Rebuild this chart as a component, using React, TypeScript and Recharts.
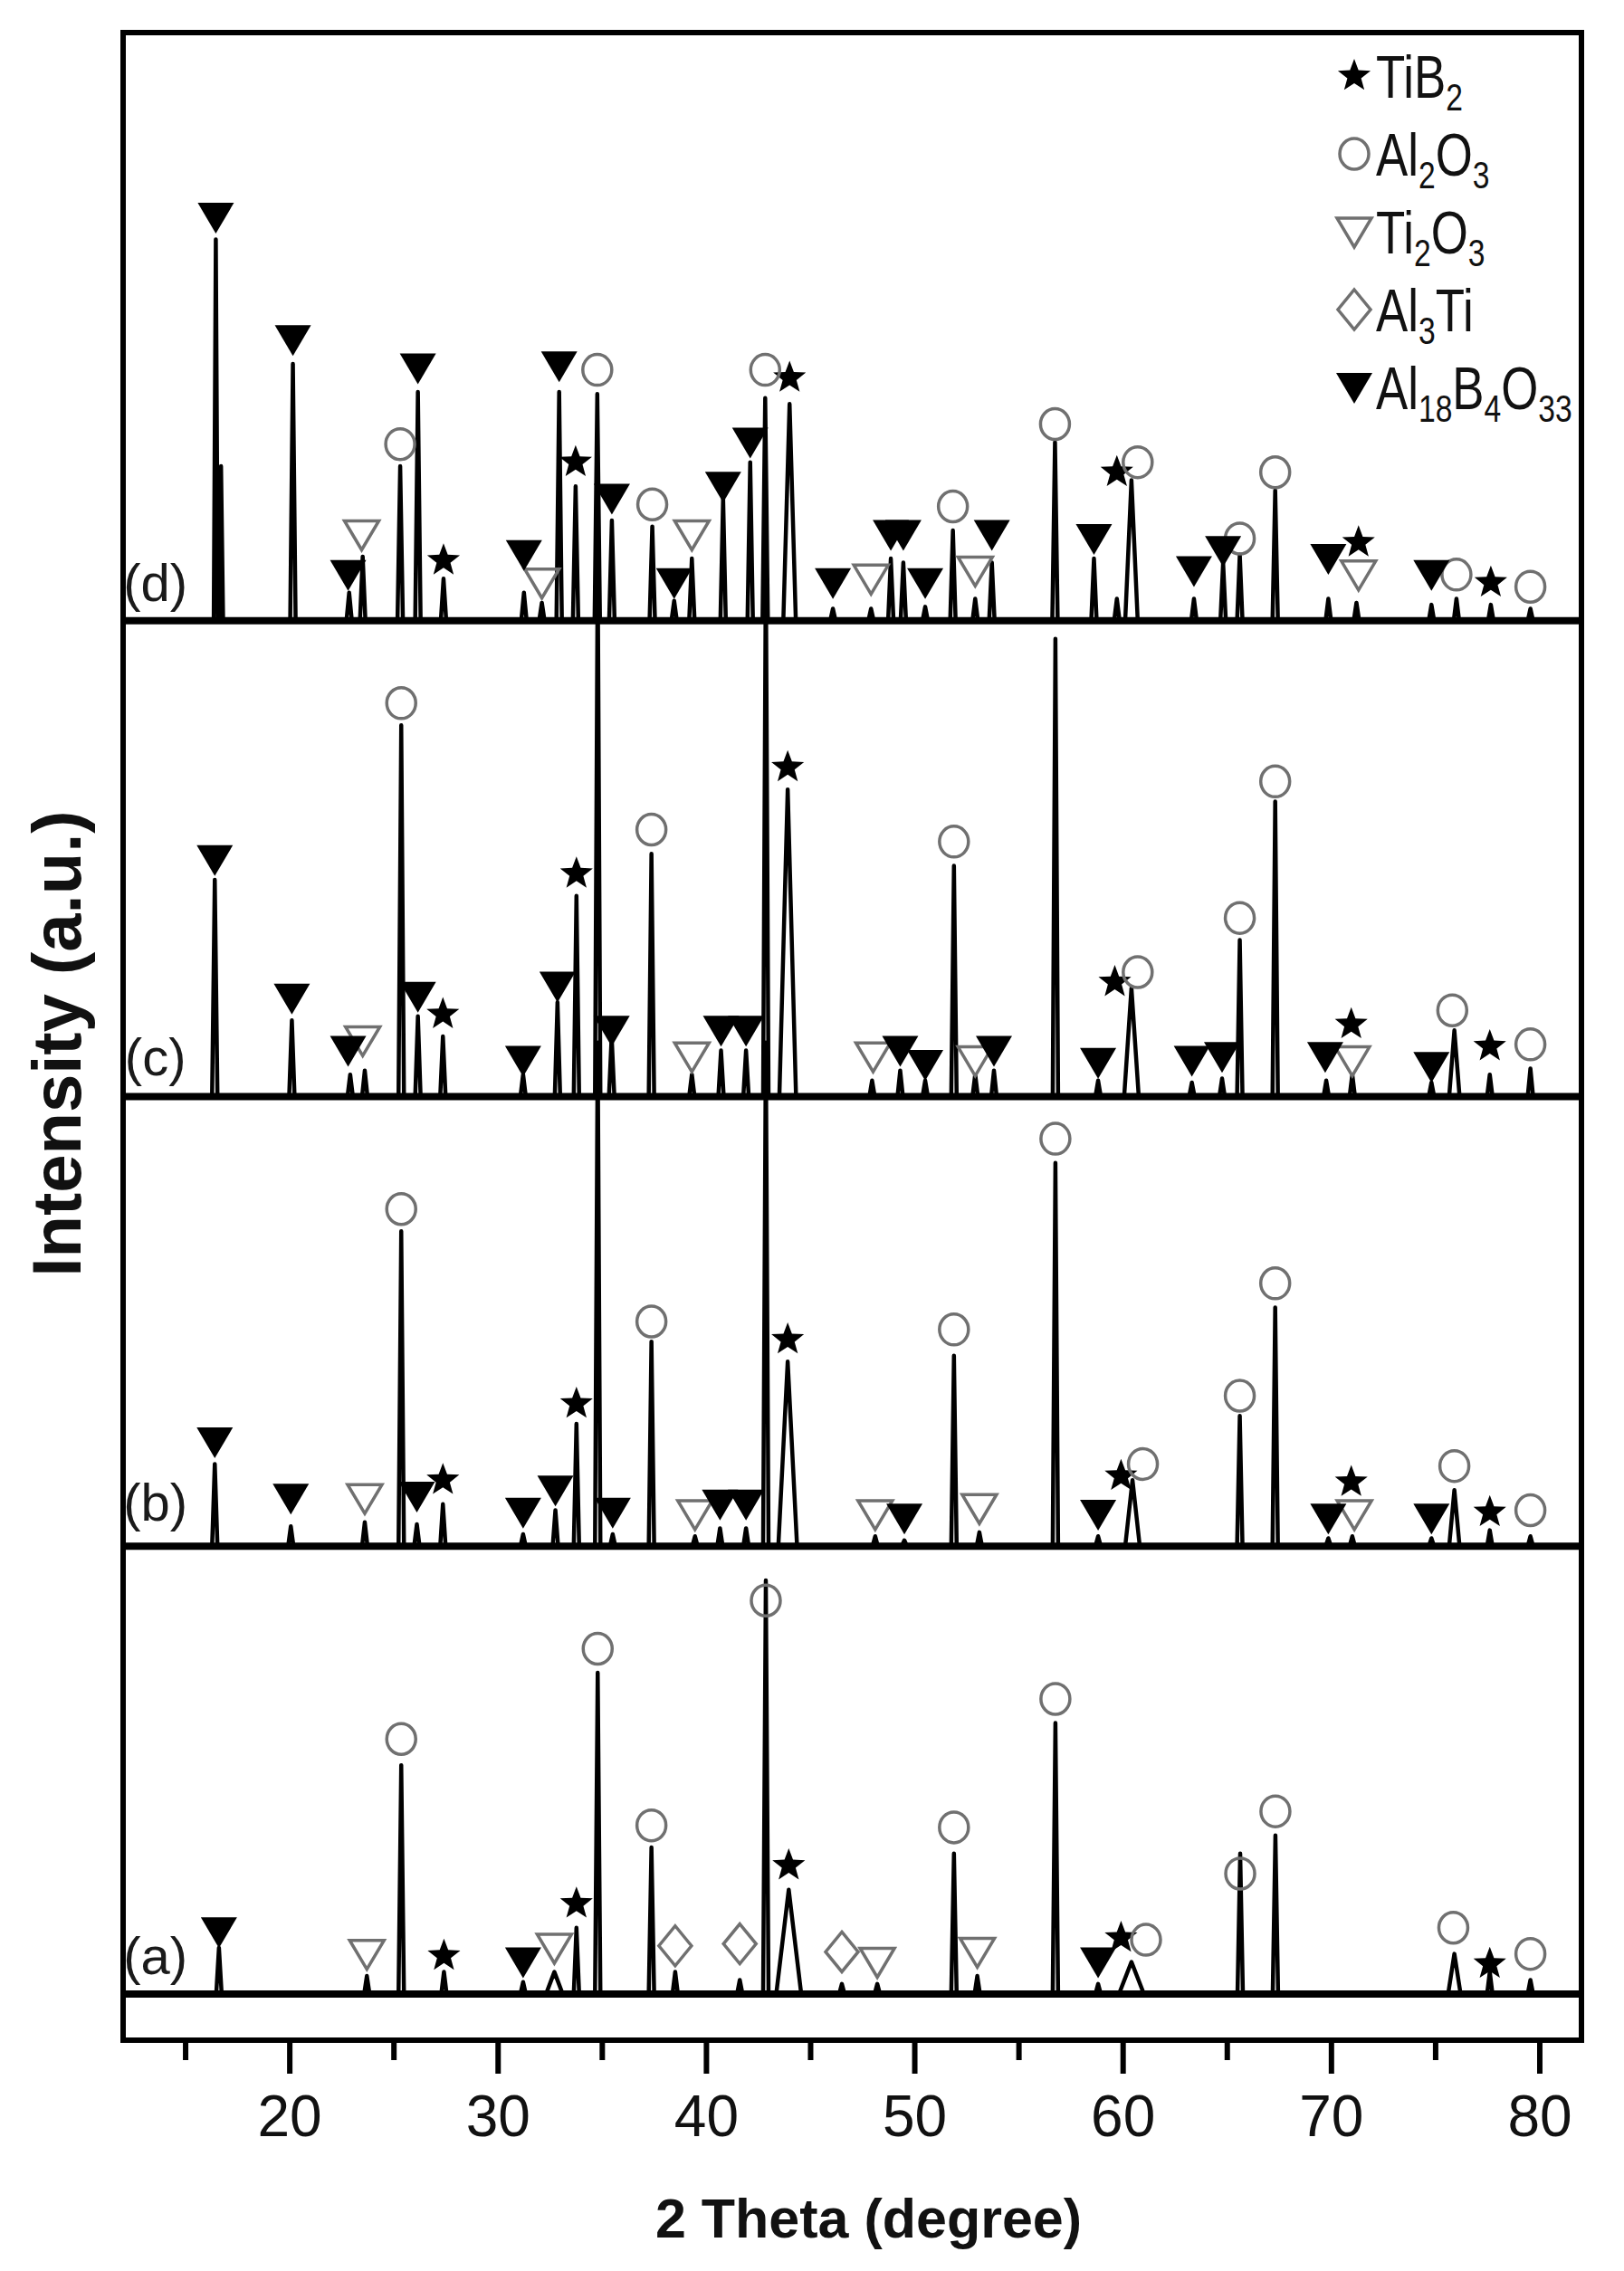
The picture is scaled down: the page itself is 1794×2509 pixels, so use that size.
import React from 'react';
import { ComposedChart, Line, Scatter, XAxis, YAxis, ReferenceArea, Legend } from 'recharts';

// ---------- data ----------
const X_DOMAIN = [12, 82];
const Y_DOMAIN = [0, 1000];
const MAJOR_TICKS = [20, 30, 40, 50, 60, 70, 80];
const MINOR_TICKS = [15, 25, 35, 45, 55, 65, 75];

const TRACE_NAMES = ['(a)', '(b)', '(c)', '(d)'];
const OFFSETS = [23, 246, 470, 707];
const NAME_LABEL_X = 13.55;
const NAME_LABEL_Y = [42, 268, 490, 726];

// [2theta, height above baseline, half width at base (optional)]
const PEAKS_A = [
  [16.6, 23], [23.7, 9], [25.35, 114], [27.4, 11], [31.2, 6], [32.7, 11, 0.4], [33.76, 33],
  [34.78, 160], [37.36, 73], [38.5, 11], [41.6, 7], [42.85, 206], [43.95, 52, 0.6],
  [46.5, 5], [48.2, 5], [51.88, 70], [53.0, 9], [56.75, 135], [58.8, 5], [60.4, 16, 0.6],
  [65.62, 70], [67.31, 79], [75.9, 20, 0.3], [77.6, 11], [79.55, 7],
];
const PEAKS_B = [
  [16.4, 41], [20.05, 10], [23.6, 12], [25.35, 157], [26.1, 11], [27.35, 21], [31.2, 6],
  [32.75, 18], [33.76, 61], [34.78, 251], [35.5, 6], [37.36, 102], [39.45, 5], [40.65, 9],
  [41.9, 9], [42.85, 251], [43.9, 92, 0.45], [48.1, 5], [49.5, 3], [51.88, 95], [53.1, 7],
  [56.75, 191], [58.8, 5], [60.45, 33, 0.35], [65.6, 65], [67.3, 119], [69.85, 4], [71.0, 5],
  [74.8, 4], [75.9, 28, 0.25], [77.6, 8], [79.55, 5],
];
const PEAKS_C = [
  [16.4, 108], [20.1, 38], [22.9, 11], [23.6, 13], [25.35, 185], [26.15, 40], [27.35, 30],
  [31.2, 11], [32.85, 47], [33.76, 100], [34.78, 266], [35.45, 30], [37.36, 121], [39.3, 11],
  [40.7, 23], [41.9, 23], [42.85, 266], [43.9, 153, 0.4], [47.95, 8], [49.3, 13], [50.5, 8],
  [51.88, 115], [52.9, 11], [53.8, 13], [56.75, 228], [58.8, 8], [60.4, 54, 0.35], [63.3, 7],
  [64.75, 9], [65.6, 78], [67.3, 147], [69.75, 8], [71.0, 11], [74.8, 7], [75.9, 33, 0.25],
  [77.6, 11], [79.55, 14],
];
const PEAKS_D = [
  [16.45, 190, 0.1], [16.7, 77, 0.1], [20.15, 128], [22.85, 14], [23.5, 32], [25.3, 77],
  [26.15, 114], [27.38, 21], [31.24, 14], [32.1, 9], [32.93, 114], [33.72, 67], [34.76, 113],
  [35.46, 50], [37.4, 47], [38.45, 10], [39.3, 31], [40.8, 61], [42.1, 79], [42.82, 111],
  [43.99, 108, 0.3], [46.07, 6], [47.9, 6], [48.85, 31], [49.45, 29], [50.5, 7], [51.83, 45],
  [52.9, 11], [53.7, 29], [56.73, 89], [58.6, 31], [59.7, 11], [60.4, 70, 0.3], [63.4, 11],
  [64.8, 29], [65.6, 33], [67.3, 65], [69.85, 11], [71.2, 9], [74.8, 8], [76.0, 11],
  [77.65, 8], [79.55, 6],
];

// phase markers: [phase, 2theta, level]
// S = TiB2, O = Al2O3, T = Ti2O3, D = Al3Ti, F = Al18B4O33
const MARKERS_A = [
  ['F', 16.6, 54], ['T', 23.7, 43], ['O', 25.35, 150], ['S', 27.4, 42], ['F', 31.2, 39],
  ['T', 32.7, 46], ['S', 33.76, 68], ['O', 34.78, 195], ['O', 37.36, 107], ['D', 38.5, 47],
  ['D', 41.6, 48], ['O', 42.85, 219], ['S', 43.95, 87], ['D', 46.5, 44], ['T', 48.2, 39],
  ['O', 51.88, 106], ['T', 53.0, 44], ['O', 56.75, 170], ['F', 58.8, 39], ['S', 59.9, 51],
  ['O', 61.1, 50], ['O', 65.62, 83], ['O', 67.31, 114], ['O', 75.85, 56], ['S', 77.6, 38],
  ['O', 79.55, 43],
];
const MARKERS_B = [
  ['F', 16.4, 298], ['F', 20.05, 270], ['T', 23.6, 270], ['O', 25.35, 414], ['F', 26.1, 271],
  ['S', 27.35, 279], ['F', 31.2, 263], ['F', 32.75, 274], ['S', 33.76, 317], ['F', 35.5, 263],
  ['O', 37.36, 358], ['T', 39.45, 262], ['F', 40.65, 267], ['F', 41.9, 267], ['S', 43.9, 349],
  ['T', 48.1, 262], ['F', 49.5, 260], ['O', 51.88, 354], ['T', 53.1, 265], ['O', 56.75, 449],
  ['F', 58.8, 262], ['S', 59.9, 281], ['O', 60.95, 287], ['O', 65.6, 321], ['O', 67.3, 377],
  ['F', 69.85, 260], ['S', 70.95, 278], ['T', 71.1, 262], ['F', 74.8, 260], ['O', 75.9, 286],
  ['S', 77.6, 263], ['O', 79.55, 264],
];
const MARKERS_C = [
  ['F', 16.4, 588], ['F', 20.1, 519], ['F', 22.8, 493], ['T', 23.5, 498], ['O', 25.35, 666],
  ['F', 26.15, 520], ['S', 27.35, 511], ['F', 31.2, 488], ['F', 32.85, 525], ['S', 33.76, 581],
  ['F', 35.45, 503], ['O', 37.36, 603], ['T', 39.3, 490], ['F', 40.7, 503], ['F', 41.9, 503],
  ['S', 43.9, 634], ['T', 48.0, 490], ['F', 49.3, 493], ['F', 50.5, 486], ['O', 51.88, 597],
  ['T', 52.9, 488], ['F', 53.8, 493], ['F', 58.8, 487], ['S', 59.6, 527], ['O', 60.7, 532],
  ['F', 63.3, 488], ['F', 64.75, 490], ['O', 65.6, 559], ['O', 67.3, 627], ['F', 69.7, 490],
  ['S', 70.95, 506], ['T', 71.0, 488], ['F', 74.8, 485], ['O', 75.8, 513], ['S', 77.6, 495],
  ['O', 79.55, 496],
];
const MARKERS_D = [
  ['F', 16.45, 908], ['F', 20.15, 847], ['F', 22.8, 730], ['T', 23.45, 750], ['O', 25.3, 795],
  ['F', 26.15, 833], ['S', 27.38, 737], ['F', 31.24, 740], ['T', 32.1, 726], ['F', 32.93, 834],
  ['S', 33.72, 786], ['O', 34.76, 832], ['F', 35.46, 768], ['O', 37.4, 765], ['F', 38.45, 726],
  ['T', 39.3, 750], ['F', 40.8, 774], ['F', 42.1, 796], ['O', 42.82, 832], ['S', 43.99, 828],
  ['F', 46.07, 726], ['T', 47.9, 728], ['F', 48.85, 750], ['F', 49.45, 750], ['F', 50.5, 726],
  ['O', 51.83, 764], ['T', 52.9, 732], ['F', 53.7, 750], ['O', 56.73, 805], ['F', 58.6, 748],
  ['S', 59.7, 781], ['O', 60.7, 786], ['F', 63.4, 732], ['F', 64.8, 742], ['O', 65.6, 748],
  ['O', 67.3, 781], ['F', 69.85, 738], ['S', 71.3, 746], ['T', 71.3, 730], ['F', 74.8, 730],
  ['O', 76.0, 730], ['S', 77.65, 726], ['O', 79.55, 724],
];

const PHASES = ['S', 'O', 'T', 'D', 'F'];
// legend label segments: [text, isSubscript]
const LEGEND_LABELS = [
  [['TiB', 0], ['2', 1]],
  [['Al', 0], ['2', 1], ['O', 0], ['3', 1]],
  [['Ti', 0], ['2', 1], ['O', 0], ['3', 1]],
  [['Al', 0], ['3', 1], ['Ti', 0]],
  [['Al', 0], ['18', 1], ['B', 0], ['4', 1], ['O', 0], ['33', 1]],
];

// ---------- helpers ----------
const PEAK_LISTS = [PEAKS_A, PEAKS_B, PEAKS_C, PEAKS_D];
const MARKER_LISTS = [MARKERS_A, MARKERS_B, MARKERS_C, MARKERS_D];

function buildTrace(offset: number, peaks: any[]) {
  const pts = [{ x: X_DOMAIN[0], y: offset }];
  const sorted = [...peaks].sort((a, b) => a[0] - b[0]);
  sorted.forEach((p) => {
    const hw = p[2] ?? 0.13;
    pts.push({ x: p[0] - hw, y: offset });
    pts.push({ x: p[0], y: offset + p[1] });
    pts.push({ x: p[0] + hw, y: offset });
  });
  pts.push({ x: X_DOMAIN[1], y: offset });
  return pts;
}

const TRACES = PEAK_LISTS.map((p, i) => buildTrace(OFFSETS[i], p));
const BANDS = OFFSETS.map((o) => [{ x: X_DOMAIN[0], y: o }, { x: X_DOMAIN[1], y: o }]);
const MARKER_DATA = PHASES.map((ph) =>
  MARKER_LISTS.flatMap((list) => list.filter((m) => m[0] === ph).map((m) => ({ x: m[1], y: m[2] })))
);
const NAME_DATA = TRACE_NAMES.map((n, i) => ({ x: NAME_LABEL_X, y: NAME_LABEL_Y[i], name: n }));
const ALL_TICKS = [...MAJOR_TICKS, ...MINOR_TICKS].sort((a, b) => a - b);

const GRAY = '#707070';
const FONT = '"Liberation Sans", Arial, Helvetica, sans-serif';

function starPoints(cx: number, cy: number, R: number, r: number) {
  const pts: string[] = [];
  for (let i = 0; i < 10; i++) {
    const ang = -Math.PI / 2 + (i * Math.PI) / 5;
    const rad = i % 2 === 0 ? R : r;
    pts.push(`${cx + rad * Math.cos(ang)},${cy + rad * Math.sin(ang)}`);
  }
  return pts.join(' ');
}

function renderMarker(type: string, cx: number, cy: number, key?: any) {
  switch (type) {
    case 'S':
      return <polygon key={key} points={starPoints(cx, cy, 19, 8)} fill="#000" />;
    case 'O':
      return <ellipse key={key} cx={cx} cy={cy} rx={16} ry={17} fill="none" stroke={GRAY} strokeWidth={3.5} />;
    case 'T':
      return (
        <polygon key={key} points={`${cx - 19},${cy - 15} ${cx + 19},${cy - 15} ${cx},${cy + 17}`}
          fill="none" stroke={GRAY} strokeWidth={3.5} strokeLinejoin="miter" />
      );
    case 'D':
      return (
        <polygon key={key} points={`${cx},${cy - 22} ${cx + 18},${cy} ${cx},${cy + 22} ${cx - 18},${cy}`}
          fill="none" stroke={GRAY} strokeWidth={3.5} />
      );
    default:
      return (
        <polygon key={key} points={`${cx - 20},${cy - 16} ${cx + 20},${cy - 16} ${cx},${cy + 18}`} fill="#000" />
      );
  }
}

const makeShape = (type: string) => (props: any) => {
  const { cx, cy } = props;
  if (cx == null || cy == null) return <g />;
  return renderMarker(type, cx, cy);
};

const NameShape = (props: any) => {
  const { cx, cy, payload } = props;
  return (
    <text x={cx} y={cy} textAnchor="middle" dominantBaseline="central" fontSize={58}
      fontFamily={FONT} fill="#1a1a1a">{payload.name}</text>
  );
};

const AxisTick = (props: any) => {
  const { x, y, payload } = props;
  const major = payload.value % 10 === 0;
  return (
    <g>
      <line x1={x} x2={x} y1={y} y2={y + (major ? 37 : 22)} stroke="#000" strokeWidth={6} />
      {major && (
        <text x={x} y={y + 106} textAnchor="middle" fontSize={64} fontFamily={FONT} fill="#111">
          {payload.value}
        </text>
      )}
    </g>
  );
};

const XTitle = (props: any) => {
  const vb = props.viewBox || { x: 136, y: 2254, width: 1611 };
  return (
    <text x={vb.x + vb.width / 2 + 18} y={vb.y + 218} textAnchor="middle" fontSize={61}
      fontWeight="bold" fontFamily={FONT} fill="#111">2 Theta (degree)</text>
  );
};

const YTitle = (props: any) => {
  const vb = props.viewBox && props.viewBox.height ? props.viewBox : { x: 76, y: 36, width: 60, height: 2218 };
  const cx = vb.x + vb.width - 74;
  const cy = vb.y + vb.height / 2 + 8;
  return (
    <text x={cx} y={cy} transform={`rotate(-90 ${cx} ${cy})`} textAnchor="middle" dominantBaseline="central"
      fontSize={76} fontWeight="bold" fontFamily={FONT} fill="#111">Intensity (a.u.)</text>
  );
};

const LegendContent = () => (
  <svg width={352} height={490}>
    {PHASES.map((ph, i) => {
      const cy = 54 + 86 * i;
      const segs = LEGEND_LABELS[i];
      let prevSub = false;
      return (
        <g key={ph}>
          {renderMarker(ph, 54, cy)}
          <g transform={`translate(78 ${cy + 24}) scale(0.8 1)`}>
            <text x={0} y={0} fontSize={66} fontFamily={FONT} fill="#111">
              {segs.map((s, j) => {
                const isSub = s[1] === 1;
                const dy = isSub && !prevSub ? 14 : !isSub && prevSub ? -14 : 0;
                prevSub = isSub;
                return (
                  <tspan key={j} dy={dy} fontSize={isSub ? 42 : 66}>{s[0]}</tspan>
                );
              })}
            </text>
          </g>
        </g>
      );
    })}
  </svg>
);

export default function App() {
  return (
    <div style={{ position: 'absolute', left: 0, top: 0, width: 1794, height: 2509, background: '#fff' }}>
      <ComposedChart width={1794} height={2509} margin={{ top: 36, right: 47, bottom: 135, left: 76 }}>
        <XAxis type="number" dataKey="x" domain={X_DOMAIN} ticks={ALL_TICKS} interval={0}
          allowDataOverflow height={120} tickLine={false} tickSize={0} tickMargin={0}
          axisLine={{ stroke: '#000', strokeWidth: 6 }} tick={<AxisTick />} label={<XTitle />} />
        <YAxis type="number" domain={Y_DOMAIN} allowDataOverflow width={60} tick={false}
          tickLine={false} axisLine={false} label={<YTitle />} />
        <ReferenceArea x1={X_DOMAIN[0]} x2={X_DOMAIN[1]} y1={Y_DOMAIN[0]} y2={Y_DOMAIN[1]}
          fill="none" fillOpacity={0} stroke="#000" strokeWidth={6} ifOverflow="visible" />
        {BANDS.map((d, i) => (
          <Line key={'band' + i} data={d} dataKey="y" type="linear" stroke="#000" strokeWidth={8}
            dot={false} activeDot={false} isAnimationActive={false} legendType="none" />
        ))}
        {TRACES.map((d, i) => (
          <Line key={'trace' + i} data={d} dataKey="y" name={TRACE_NAMES[i]} type="linear" stroke="#000"
            strokeWidth={4.5} strokeLinejoin="round" dot={false} activeDot={false} isAnimationActive={false} />
        ))}
        {PHASES.map((ph, i) => (
          <Scatter key={'m' + ph} data={MARKER_DATA[i]} dataKey="y" shape={makeShape(ph)}
            isAnimationActive={false} legendType="none" />
        ))}
        <Scatter data={NAME_DATA} dataKey="y" shape={<NameShape />} isAnimationActive={false} legendType="none" />
        <Legend layout="vertical" align="center" verticalAlign="middle" content={<LegendContent />}
          wrapperStyle={{ position: 'absolute', left: 1442, top: 30, width: 352, height: 490 }} />
      </ComposedChart>
    </div>
  );
}
